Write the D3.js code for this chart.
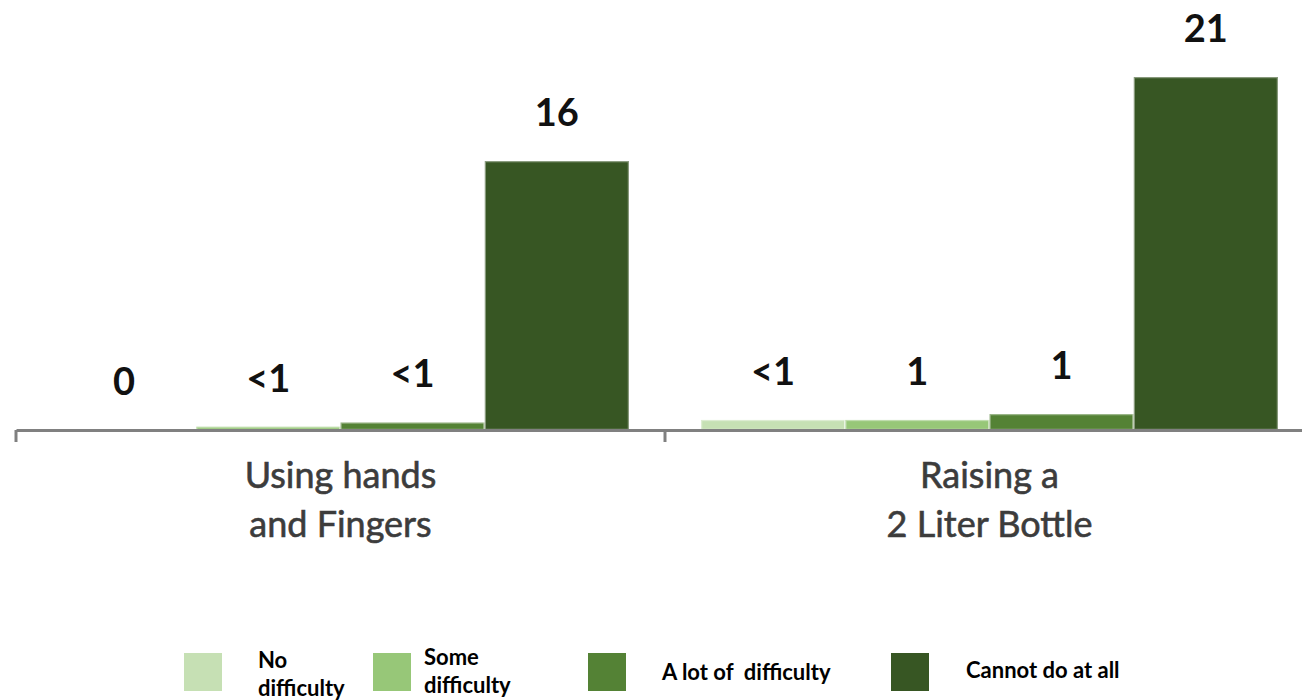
<!DOCTYPE html>
<html>
<head>
<meta charset="utf-8">
<script src="https://cdn.jsdelivr.net/npm/d3@7"></script>
<style>
  html, body { margin: 0; padding: 0; background: #ffffff; }
  svg { display: block; }
  text { white-space: pre; }
</style>
</head>
<body>
<svg id="chart" width="1302" height="700"></svg>
<script>
// ---- data ----
const categories = [["Using hands", "and Fingers"], ["Raising a", "2 Liter Bottle"]];
const categoryKeys = ["Using hands and Fingers", "Raising a 2 Liter Bottle"];
const series = ["No difficulty", "Some difficulty", "A lot of  difficulty", "Cannot do at all"];
const noDifficulty     = [0, 0.6];
const someDifficulty   = [0.2, 0.6];
const aLotOfDifficulty = [0.45, 0.95];
const cannotDoAtAll    = [16, 21];
const valueLabels = [["0", "<1", "<1", "16"], ["<1", "1", "1", "21"]];
const colors = ["#c6e0b4", "#97c778", "#548235", "#375623"];
const legendLines = [["No", "difficulty"], ["Some", "difficulty"], ["A lot of  difficulty"], ["Cannot do at all"]];

const seriesValues = [noDifficulty, someDifficulty, aLotOfDifficulty, cannotDoAtAll];

// ---- layout ----
const svg = d3.select("#chart");
const baseY = 430;
const x0 = d3.scaleBand().domain(categoryKeys).range([16, 1314]).paddingInner(0).paddingOuter(0);
const x1 = d3.scaleBand().domain(series).range([36, x0.bandwidth() - 36]).padding(0);
const y = d3.scaleLinear().domain([0, 21]).range([baseY, 77]);

const groups = svg.selectAll("g.grp")
  .data(categoryKeys)
  .join("g")
  .attr("class", "grp")
  .attr("transform", d => `translate(${x0(d)},0)`);

groups.each(function(cat, ci) {
  const g = d3.select(this);
  const rows = series.map((s, si) => ({ s, si, v: seriesValues[si][ci], label: valueLabels[ci][si] }));
  g.selectAll("rect")
    .data(rows)
    .join("rect")
    .attr("x", d => x1(d.s))
    .attr("y", d => y(d.v))
    .attr("width", x1.bandwidth())
    .attr("height", d => baseY - y(d.v))
    .attr("fill", d => colors[d.si])
    .attr("stroke", d => d.v > 0 ? "rgba(255,255,255,0.4)" : "none")
    .attr("stroke-width", 2.5);
  g.selectAll("text.val")
    .data(rows)
    .join("text")
    .attr("class", "val")
    .attr("x", d => x1(d.s) + x1.bandwidth() / 2)
    .attr("y", d => y(d.v) - 35)
    .attr("text-anchor", "middle")
    .attr("font-family", "Lato, 'Open Sans', sans-serif")
    .attr("font-weight", 700)
    .attr("font-size", 38)
    .attr("fill", "#111")
    .text(d => d.label);
});

// axis
const axis = d3.axisBottom(x0).tickSize(0).tickSizeOuter(0).tickFormat("");
const axG = svg.append("g").attr("transform", `translate(0,${baseY})`).call(axis);
axG.select(".domain").attr("stroke", "#808080").attr("stroke-width", 3);
const boundaries = categoryKeys.map(k => x0(k)).concat([x0.range()[1]]);
axG.selectAll("line.tk")
  .data(boundaries)
  .join("line")
  .attr("class", "tk")
  .attr("x1", d => d).attr("x2", d => d)
  .attr("y1", 0).attr("y2", 12)
  .attr("stroke", "#808080").attr("stroke-width", 3);

// category labels
const catText = svg.selectAll("text.cat")
  .data(categoryKeys)
  .join("text")
  .attr("class", "cat")
  .attr("text-anchor", "middle")
  .attr("font-family", "Lato, 'Open Sans', sans-serif")
  .attr("font-size", 36)
  .attr("fill", "#3c3c3c")
  .attr("stroke", "#3c3c3c")
  .attr("stroke-width", 0.6);
catText.each(function(k, i) {
  const t = d3.select(this);
  const cx = x0(k) + x0.bandwidth() / 2;
  categories[i].forEach((line, li) => {
    t.append("tspan").attr("x", cx).attr("y", 488 + li * 49).text(line);
  });
});

// legend
const legendX = [184, 373, 588, 891];
const legendTextX = [258, 424, 662, 966];
const leg = svg.append("g");
series.forEach((s, i) => {
  leg.append("rect")
    .attr("x", legendX[i]).attr("y", 653)
    .attr("width", 38).attr("height", 38)
    .attr("fill", colors[i]);
  const t = leg.append("text")
    .attr("font-family", "Lato, 'Open Sans', sans-serif")
    .attr("font-weight", 700)
    .attr("font-size", 22)
    .attr("fill", "#000")
    .attr("xml:space", "preserve");
  const lines = legendLines[i];
  if (lines.length === 2) {
    const y0 = i === 0 ? 668 : 665;
    lines.forEach((ln, li) => t.append("tspan").attr("x", legendTextX[i]).attr("y", y0 + li * 28).text(ln));
  } else {
    t.append("tspan").attr("x", legendTextX[i]).attr("y", i === 2 ? 680 : 678).text(lines[0]);
  }
});
</script>
</body>
</html>
